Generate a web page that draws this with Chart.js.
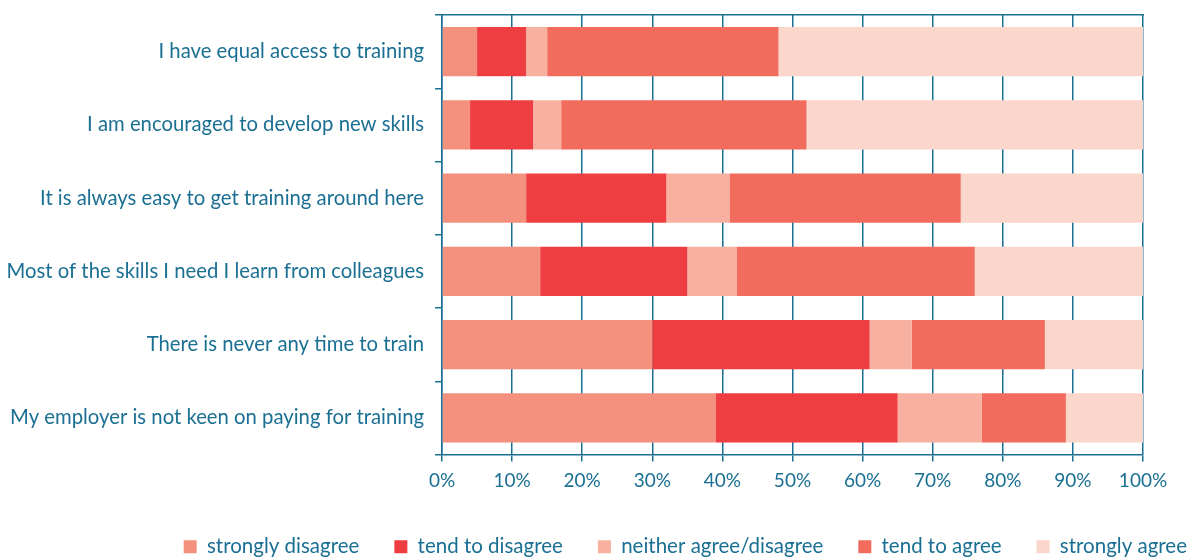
<!DOCTYPE html>
<html>
<head>
<meta charset="utf-8">
<script src="https://cdn.jsdelivr.net/npm/chart.js@4/dist/chart.umd.min.js"></script>
<style>
  html, body { margin: 0; padding: 0; background: #fff; }
  #wrap { width: 1192px; height: 558px; }
</style>
</head>
<body>
<div id="wrap"><canvas id="c"></canvas></div>
<script>
// statements (top to bottom)
const statements = [
    'I have equal access to training',
    'I am encouraged to develop new skills',
    'It is always easy to get training around here',
    'Most of the skills I need I learn from colleagues',
    'There is never any time to train',
    'My employer is not keen on paying for training'
];

// answer shares, % per statement
const stronglyDisagree = [5, 4, 12, 14, 30, 39];
const tendToDisagree   = [7, 9, 20, 21, 31, 26];
const neitherAgree     = [3, 4, 9, 7, 6, 12];
const tendToAgree      = [33, 35, 33, 34, 19, 12];
const stronglyAgree    = [52, 48, 26, 24, 14, 11];

const seriesNames = ['strongly disagree', 'tend to disagree', 'neither agree/disagree', 'tend to agree', 'strongly agree'];
const seriesColors = ['#f4907e', '#ef3e42', '#f8b0a0', '#f26c5e', '#fbd6cb'];

const xTicks = [0, 10, 20, 30, 40, 50, 60, 70, 80, 90, 100];

const ink = '#1a6f93';
const font = "'Lato', 'Open Sans', sans-serif";

const allSeries = [stronglyDisagree, tendToDisagree, neitherAgree, tendToAgree, stronglyAgree];

// drop the label overflow padding so the plot box sits where asked
function noOverflow(s) {
    s.paddingTop = 0;
    s.paddingBottom = 0;
    s.paddingLeft = 0;
    s.paddingRight = 0;
}

new Chart(document.getElementById('c'), {
    type: 'bar',
    data: {
        labels: statements,
        datasets: allSeries.map((d, i) => ({
            label: seriesNames[i],
            data: d,
            backgroundColor: seriesColors[i],
            borderWidth: 0,
            barPercentage: 0.67,
            categoryPercentage: 1
        }))
    },
    options: {
        indexAxis: 'y',
        responsive: true,
        maintainAspectRatio: false,
        animation: false,
        layout: {padding: {top: 15, right: -30, left: 0, bottom: -9}},
        scales: {
            x: {
                stacked: true,
                min: 0,
                max: 100,
                afterBuildTicks: s => { s.ticks = xTicks.map(v => ({value: v})); },
                afterFit: s => { s.height = 47; noOverflow(s); },
                grid: {color: ink, lineWidth: 1.5, tickLength: 7},
                border: {color: ink, width: 1.5},
                ticks: {
                    color: ink,
                    padding: 8,
                    font: {family: font, size: 19},
                    callback: v => v + '%'
                }
            },
            xTop: {
                type: 'linear',
                position: 'top',
                min: 0,
                max: 100,
                afterFit: s => { s.height = 0; noOverflow(s); },
                grid: {display: false},
                ticks: {display: false},
                border: {color: ink, width: 1.5}
            },
            y: {
                stacked: true,
                afterFit: s => { s.width = 442; noOverflow(s); },
                grid: {drawOnChartArea: false, color: ink, lineWidth: 1.5, tickLength: 7},
                border: {color: ink, width: 1.5},
                ticks: {
                    color: ink,
                    padding: 11,
                    font: {family: font, size: 20.3}
                }
            },
            // empty spacer on the right so the legend can run past the plot
            ySpace: {
                type: 'category',
                position: 'right',
                afterFit: s => { s.width = 79; noOverflow(s); },
                grid: {display: false},
                ticks: {display: false},
                border: {display: false}
            }
        },
        plugins: {
            tooltip: {enabled: false},
            legend: {
                position: 'bottom',
                align: 'end',
                labels: {
                    color: ink,
                    boxWidth: 13,
                    boxHeight: 13,
                    padding: 35,
                    font: {family: font, size: 20.5}
                }
            }
        }
    }
});
</script>
</body>
</html>
